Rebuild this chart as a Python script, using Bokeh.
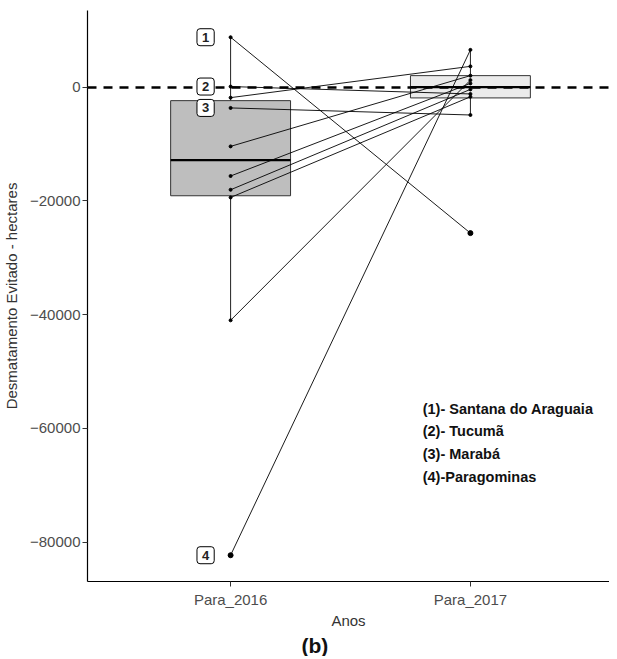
import numpy as np
from bokeh.plotting import figure
from bokeh.models import Range1d, FixedTicker, Label, ColumnDataSource, Title
from bokeh.embed import file_html
from bokeh.resources import INLINE
from bokeh.core.properties import value

# ---------------- data ----------------
years = ["Para_2016", "Para_2017"]

# avoided deforestation (hectares) per municipality, paired by position
para_2016 = [8770, 100, -1850, -3660, -10420, -15630, -18050, -19400, -41000, -82300]
para_2017 = [-25670, -1200, 3650, -4900, 2020, 650, -400, -1700, 1230, 6550]
ids = ["1", "2", "", "3", "", "", "", "", "", "4"]

# box-plot statistics per year
box_lower = [-41000, -4900]
box_q1 = [-19100, -1900]
box_median = [-12820, 0]
box_q3 = [-2380, 2020]
box_upper = [8770, 6550]

y_ticks = [0, -20000, -40000, -60000, -80000]

legend_entries = ["(1)- Santana do Araguaia", "(2)- Tucumã", "(3)- Marabá", "(4)-Paragominas"]

# ---------------- figure ----------------
FONT = value("Liberation Sans")

p = figure(width=609, height=656, output_backend="svg", toolbar_location=None,
           x_range=Range1d(0.4033, 2.580), y_range=Range1d(-86920, 13470),
           min_border_left=80, min_border_right=0, min_border_top=10, min_border_bottom=74)
p.outline_line_color = None
p.xgrid.visible = False
p.ygrid.visible = False
p.background_fill_color = "white"
p.border_fill_color = "white"

xpos = [i + 1 for i in range(len(years))]

# boxes
box_src = ColumnDataSource(dict(x=xpos, q1=box_q1, q3=box_q3, med=box_median,
                                lo=box_lower, hi=box_upper,
                                fill=["#bebebe", "#ebebeb"]))
p.segment(x0="x", y0="q3", x1="x", y1="hi", source=box_src, line_color="#222222", line_width=1)
p.segment(x0="x", y0="q1", x1="x", y1="lo", source=box_src, line_color="#222222", line_width=1)
p.vbar(x="x", width=0.5, top="q3", bottom="q1", source=box_src, fill_color="fill",
       line_color="#333333", line_width=1)
p.segment(x0=[x - 0.25 for x in xpos], y0=box_median, x1=[x + 0.25 for x in xpos], y1=box_median,
          line_color="black", line_width=2.2)

# outliers
out_x, out_y = [], []
for xi, vals, lo, hi in zip(xpos, [para_2016, para_2017], box_lower, box_upper):
    for v in vals:
        if v < lo or v > hi:
            out_x.append(xi)
            out_y.append(v)
p.scatter(out_x, out_y, size=5, color="black")

# zero reference line (glyph, so labels sit on top of it)
p.hspan(y=[0], line_color="black", line_width=2.3, line_dash="9 7")

# paired lines and points
n = len(para_2016)
p.segment(x0=[xpos[0]] * n, y0=para_2016, x1=[xpos[1]] * n, y1=para_2017,
          line_color="black", line_width=0.9)
p.scatter([xpos[0]] * n, para_2016, size=3, color="black")
p.scatter([xpos[1]] * n, para_2017, size=3, color="black")

# numbered labels
lab_y = [v for v, t in zip(para_2016, ids) if t]
lab_t = [t for t in ids if t]
p.text(x=[xpos[0]] * len(lab_y), y=lab_y, text=lab_t, x_offset=-25,
       text_align="center", text_baseline="middle", text_font=FONT,
       text_font_style="bold", text_font_size="13px", text_color="#222222",
       background_fill_color="white", border_line_color="black", border_line_width=1,
       padding=[5, 4], border_radius=3)

# legend text block
leg_x = 1.801
leg_y0 = -56550
leg_step = -3990
for k, entry in enumerate(legend_entries):
    p.add_layout(Label(x=leg_x, y=leg_y0 + k * leg_step, text=entry, text_font="Liberation Sans",
                       text_font_style="bold", text_font_size="14.5px", text_color="#111111",
                       text_baseline="middle", text_align="left"))

# panel tag
p.add_layout(Title(text="(b)", align="left", offset=214, standoff=0, text_font="Liberation Sans",
                   text_font_style="bold", text_font_size="21px", text_color="#111111"),
             "below")

# axes
p.xaxis.ticker = FixedTicker(ticks=xpos)
p.xaxis.major_label_overrides = {x: y for x, y in zip(xpos, years)}
p.yaxis.ticker = FixedTicker(ticks=y_ticks)
p.yaxis.formatter.use_scientific = False
p.xaxis.axis_label = "Anos"
p.yaxis.axis_label = "Desmatamento Evitado - hectares"
for ax in (p.xaxis[0], p.yaxis[0]):
    ax.axis_line_color = "black"
    ax.axis_line_width = 1.2
    ax.major_tick_line_color = "#333333"
    ax.major_tick_out = 5
    ax.major_tick_in = 0
    ax.minor_tick_line_color = None
    ax.major_label_text_font = "Liberation Sans"
    ax.major_label_text_font_size = "15px"
    ax.major_label_text_color = "#4d4d4d"
    ax.axis_label_text_font = "Liberation Sans"
    ax.axis_label_text_font_size = "15px"
    ax.axis_label_text_font_style = "normal"
    ax.axis_label_text_color = "#333333"
p.xaxis.major_label_standoff = 4
p.xaxis.axis_label_standoff = 1
p.yaxis.major_label_standoff = 2
p.yaxis.axis_label_standoff = 7

open("out.html", "w").write(file_html(p, INLINE))
